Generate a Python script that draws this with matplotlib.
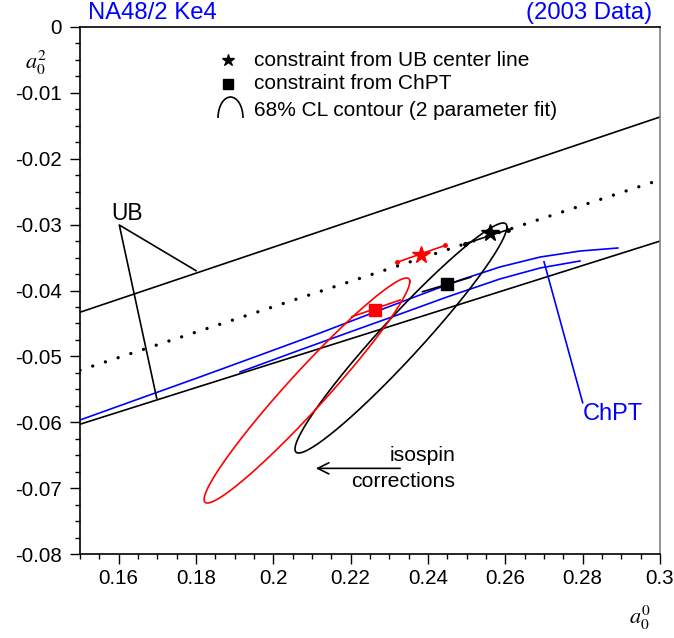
import numpy as np
import matplotlib.pyplot as plt
from matplotlib.patches import Arc
from matplotlib.ticker import MultipleLocator

plt.rcParams['font.family'] = ['Liberation Sans', 'DejaVu Sans']
plt.rcParams['mathtext.fontset'] = 'stix'

# UB band: (a0_0, a0_2) end points of the lines
ub_x = [0.15, 0.30]
ub_upper = [-0.0433, -0.01366]
ub_lower = [-0.0603, -0.0325]
ub_center = [-0.0521, -0.0232]

# ChPT curves
chpt1_x = [0.15, 0.1655, 0.1810, 0.1966, 0.2121, 0.2263, 0.2379, 0.2483,
           0.2586, 0.2690, 0.2793, 0.2891]
chpt1_y = [-0.05966, -0.05639, -0.05313, -0.04979, -0.04645, -0.04326, -0.04068,
           -0.03841, -0.03643, -0.03492, -0.03401, -0.03355]
chpt2_x = [0.1914, 0.2069, 0.2198, 0.2328, 0.2449, 0.2586, 0.2690, 0.2793]
chpt2_y = [-0.05237, -0.04903, -0.04630, -0.04357, -0.04099, -0.03825, -0.03658,
           -0.03552]

# 68% CL contours: centre, sigma_x, sigma_y, correlation
ell_black = [0.2330, -0.04721, 0.0274, 0.01746, 0.965]
ell_red = [0.2087, -0.05518, 0.0266, 0.01708, 0.968]

# constraint points with their error segments
star_black = [0.2560, -0.03127]
star_black_bar = [[0.2496, 0.2607], [-0.0329, -0.03077]]
star_red = [0.2382, -0.03457]
star_red_bar = [[0.2320, 0.2444], [-0.03571, -0.03316]]
sq_black = [0.2448, -0.03906]
sq_black_bar = [[0.2386, 0.2510], [-0.04018, -0.03800]]
sq_red = [0.2263, -0.04296]
sq_red_bar = [[0.2203, 0.2328], [-0.04398, -0.04144]]


def contour(p):
    cx, cy, sx, sy, rho = p
    t = np.linspace(0, 2 * np.pi, 300)
    x = cx + sx * np.cos(t)
    y = cy + sy * (rho * np.cos(t) + np.sqrt(1 - rho ** 2) * np.sin(t))
    return x, y


fig = plt.figure(figsize=(6.74, 6.38), dpi=100)
ax = fig.add_axes([80 / 674, 1 - 554 / 638, 580 / 674, 527 / 638])

lw = 1.2
ax.plot(ub_x, ub_upper, color='black', lw=lw)
ax.plot(ub_x, ub_lower, color='black', lw=lw)
ax.plot(ub_x, ub_center, color='black', lw=2.4, linestyle=(0, (0.01, 4.0)),
        dash_capstyle='round')

ax.plot(chpt1_x, chpt1_y, color='blue', lw=lw)
ax.plot(chpt2_x, chpt2_y, color='blue', lw=lw)

ax.plot(*contour(ell_black), color='black', lw=lw)
ax.plot(*contour(ell_red), color='red', lw=lw)

ax.plot(*star_black_bar, color='black', lw=lw, marker='o', ms=2.5)
ax.plot(*star_red_bar, color='red', lw=lw, marker='o', ms=2.5)
ax.plot(*sq_black_bar, color='black', lw=lw)
ax.plot(*sq_red_bar, color='red', lw=lw)
ax.plot(*star_black, marker='*', color='black', ms=13, ls='none')
ax.plot(*star_red, marker='*', color='red', ms=13, ls='none')
ax.plot(*sq_black, marker='s', color='black', ms=9, ls='none')
ax.plot(*sq_red, marker='s', color='red', ms=9, ls='none')

# annotations
ax.text(0.1621, -0.02824, 'UB', fontsize=16.4, ha='center', va='center')
ax.plot([0.18, 0.16016, 0.16984], [-0.03699, -0.03006, -0.05636], color='black', lw=lw)
ax.text(0.2878, -0.05875, 'ChPT', fontsize=17, color='blue', ha='center', va='center')
ax.plot([0.2800, 0.2700], [-0.05703, -0.03563], color='blue', lw=lw)
ax.text(0.2470, -0.06512, 'isospin', fontsize=15.3, ha='right', va='center')
ax.text(0.2470, -0.06903, 'corrections', fontsize=15.3, ha='right', va='center')
ax.annotate('', xy=(0.2110, -0.0670), xytext=(0.2328, -0.0670),
            arrowprops=dict(arrowstyle='->', color='black', lw=lw,
                            mutation_scale=20, shrinkA=0, shrinkB=0))

# legend
ax.plot(0.255, 0.937, marker='*', color='black', ms=9, transform=ax.transAxes)
ax.plot(0.255, 0.892, marker='s', color='black', ms=7.5, transform=ax.transAxes)
ax.add_patch(Arc((0.2595, 0.8273), 0.0431, 0.0797, theta1=0, theta2=180,
                 transform=ax.transAxes, color='black', lw=lw))
leg_fs = 15
ax.text(0.3, 0.937, 'constraint from UB center line', transform=ax.transAxes,
        fontsize=leg_fs, va='center')
ax.text(0.3, 0.892, 'constraint from ChPT', transform=ax.transAxes,
        fontsize=leg_fs, va='center')
ax.text(0.3, 0.842, '68% CL contour (2 parameter fit)', transform=ax.transAxes,
        fontsize=leg_fs, va='center')

ax.set_xlim(0.15, 0.30)
ax.set_ylim(-0.08, 0)
ax.xaxis.set_minor_locator(MultipleLocator(0.005))
ax.yaxis.set_minor_locator(MultipleLocator(0.0025))
ax.set_xticks([0.16, 0.18, 0.2, 0.22, 0.24, 0.26, 0.28, 0.3])
ax.set_xticklabels(['0.16', '0.18', '0.2', '0.22', '0.24', '0.26', '0.28', '0.3'])
ax.set_yticks([0, -0.01, -0.02, -0.03, -0.04, -0.05, -0.06, -0.07, -0.08])
ax.set_yticklabels(['0', '-0.01', '-0.02', '-0.03', '-0.04', '-0.05', '-0.06', '-0.07', '-0.08'])
ax.tick_params(which='major', direction='out', length=7.2, width=1, labelsize=14.8)
ax.tick_params(axis='y', which='major', pad=5.8)
ax.tick_params(axis='x', which='major', pad=3.6)
ax.tick_params(which='minor', direction='out', length=3.6, width=1)
ax.spines['right'].set_color('#808080')
for s in ax.spines.values():
    s.set_linewidth(1.2)

ax.text(-0.076, 0.932, '$a_0^2$', transform=ax.transAxes, fontsize=16,
        ha='center', va='center')
ax.text(0.9655, -0.121, '$a_0^0$', transform=ax.transAxes, fontsize=16,
        ha='center', va='center')

fig.text(88 / 674, 1 - 13 / 638, 'NA48/2 Ke4', color='blue', fontsize=17.2,
         ha='left', va='center')
fig.text(652 / 674, 1 - 13 / 638, '(2003 Data)', color='blue', fontsize=17.2,
         ha='right', va='center')

fig.savefig('out.png', dpi=100)
